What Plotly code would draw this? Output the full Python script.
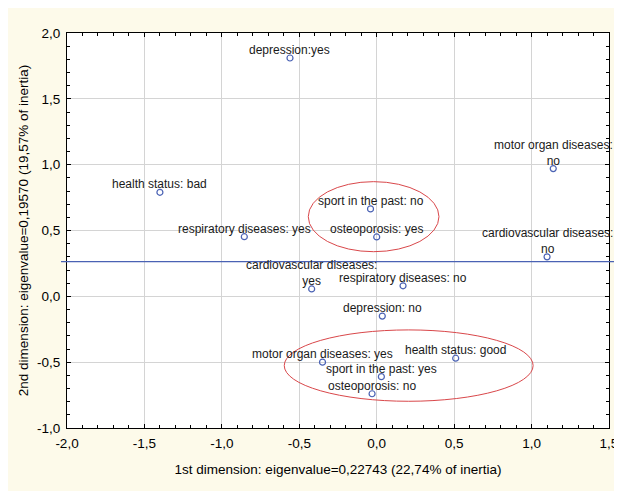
import plotly.graph_objects as go

labels = [
    "depression:yes", "health status: bad", "respiratory diseases: yes",
    "sport in the past: no", "osteoporosis: yes", "motor organ diseases:<br>no",
    "cardiovascular diseases:<br>no", "cardiovascular diseases:<br>yes",
    "respiratory diseases: no", "depression: no", "motor organ diseases: yes",
    "health status: good", "sport in the past: yes", "osteoporosis: no",
]
dim1 = [-0.56, -1.40, -0.855, -0.04, 0.00, 1.14, 1.10, -0.42, 0.17, 0.036, -0.35, 0.51, 0.03, -0.03]
dim2 = [1.81, 0.79, 0.453, 0.664, 0.451, 0.97, 0.30, 0.056, 0.08, -0.15, -0.50, -0.47, -0.61, -0.74]

ref_line_y = 0.263
ellipse_upper = [-0.442, 0.402, 0.339, 0.871]   # x0, x1, y0, y1
ellipse_lower = [-0.597, 1.01, -0.797, -0.255]

x_tickvals = [-2.0, -1.5, -1.0, -0.5, 0.0, 0.5, 1.0, 1.5]
x_ticktext = ["-2,0", "-1,5", "-1,0", "-0,5", "0,0", "0,5", "1,0", "1,5"]
y_tickvals = [-1.0, -0.5, 0.0, 0.5, 1.0, 1.5, 2.0]
y_ticktext = ["-1,0", "-0,5", "0,0", "0,5", "1,0", "1,5", "2,0"]

x_title = "1st dimension: eigenvalue=0,22743 (22,74% of inertia)"
y_title = "2nd dimension: eigenvalue=0,19570 (19,57% of inertia)"

FONT = "Liberation Sans, Arial, sans-serif"
BLUE = "#4a62b4"
RED = "#d9474a"
CREAM = "#fdfaea"

fig = go.Figure()
fig.add_trace(go.Scatter(
    x=dim1, y=dim2, mode="markers",
    marker=dict(symbol="circle-open", size=6, color=BLUE, line=dict(width=1.2, color=BLUE)),
    hoverinfo="skip", showlegend=False,
))

for lx, ly, lt in zip(dim1, dim2, labels):
    fig.add_annotation(x=lx, y=ly, text=lt, showarrow=False, xanchor="center",
                       yanchor="bottom", yshift=-1,
                       font=dict(family=FONT, size=12, color="#1a1a1a"))

shapes = [
    dict(type="line", xref="paper", yref="y", x0=-0.011, x1=1.013, y0=ref_line_y, y1=ref_line_y,
         line=dict(color=BLUE, width=1.3)),
    dict(type="circle", xref="x", yref="y", x0=ellipse_upper[0], x1=ellipse_upper[1],
         y0=ellipse_upper[2], y1=ellipse_upper[3], line=dict(color=RED, width=1)),
    dict(type="circle", xref="x", yref="y", x0=ellipse_lower[0], x1=ellipse_lower[1],
         y0=ellipse_lower[2], y1=ellipse_lower[3], line=dict(color=RED, width=1)),
]

axis_common = dict(
    showline=True, linecolor="black", linewidth=1, mirror="ticks",
    showgrid=True, gridcolor="#d4d4d4", gridwidth=1, zeroline=False,
    ticks="inside", ticklen=4, tickcolor="black", tickwidth=1,
    tickmode="array",
    tickfont=dict(family=FONT, size=13.5, color="black"),
    minor=dict(ticks="inside", ticklen=3, dtick=0.1, tickmode="linear", tick0=0,
               tickcolor="black", showgrid=False),
    automargin=False,
)

fig.update_layout(
    width=614, height=483,
    margin=dict(l=59, r=13, t=25, b=63),
    paper_bgcolor=CREAM, plot_bgcolor="white",
    shapes=shapes,
    xaxis=dict(range=[-2.0, 1.5], tickvals=x_tickvals, ticktext=x_ticktext,
               ticklabelstandoff=3,
               title=dict(text=x_title, standoff=14,
                          font=dict(family=FONT, size=13.5, color="black")), **axis_common),
    yaxis=dict(range=[-1.0, 2.0], tickvals=y_tickvals, ticktext=y_ticktext,
               ticklabelstandoff=3,
               title=dict(text=y_title, standoff=5,
                          font=dict(family=FONT, size=13.5, color="black")), **axis_common),
)

fig.write_html("out.html")
